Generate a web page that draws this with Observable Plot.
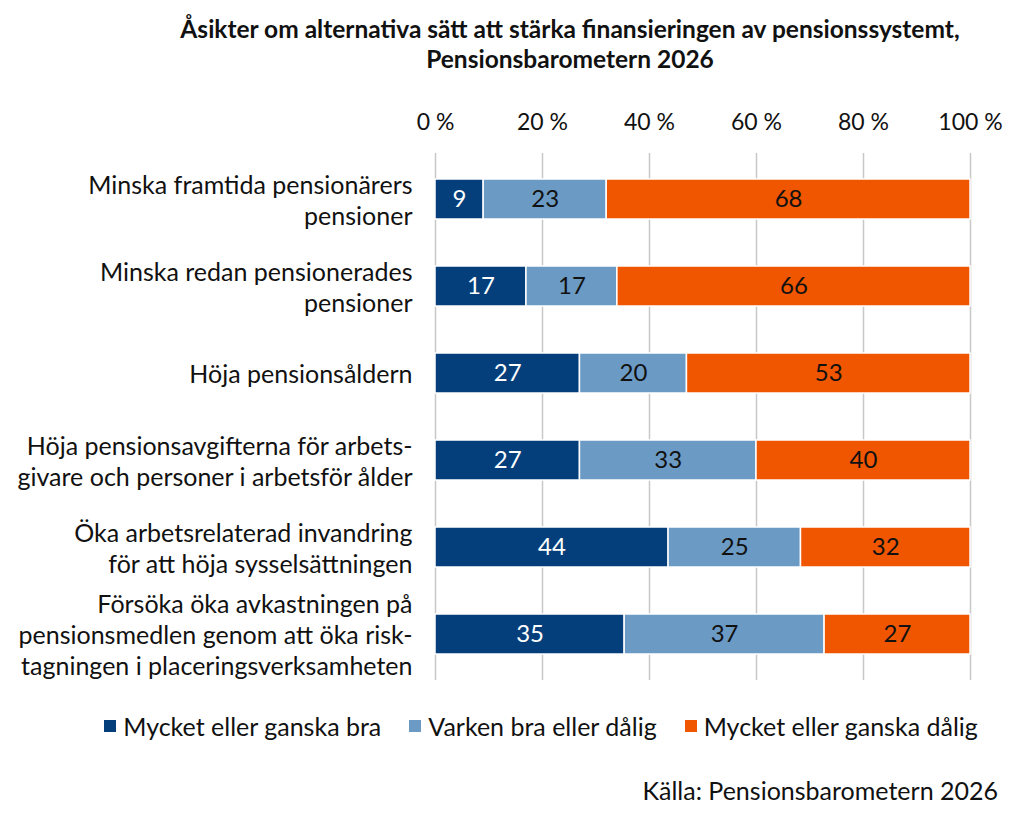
<!DOCTYPE html>
<html lang="sv">
<head>
<meta charset="utf-8">
<script src="https://cdn.jsdelivr.net/npm/d3@7"></script>
<script src="https://cdn.jsdelivr.net/npm/@observablehq/plot@0.6"></script>
<style>
  body { margin: 0; background: #fff; font-family: Lato, "Open Sans", sans-serif; color: #111; }
  #wrap { position: relative; width: 1024px; height: 816px; }
  #title { position: absolute; top: 14px; left: 116px; width: 908px; text-align: center;
           font-weight: 700; font-size: 24.5px; line-height: 30px; }
  #chart { position: absolute; top: 95px; left: 0; }
  #legend { position: absolute; top: 711px; left: 58px; width: 966px; display: flex;
            justify-content: center; align-items: center; font-size: 25px; line-height: 30px; }
  .item { display: flex; align-items: center; margin: 0 14px; }
  .sw { width: 12px; height: 12px; margin-right: 7px; }
  #source { position: absolute; top: 775px; right: 26px; font-size: 25px; line-height: 30px; }
</style>
</head>
<body>
<div id="wrap">
  <div id="title">Åsikter om alternativa sätt att stärka finansieringen av pensionssystemt,<br>Pensionsbarometern 2026</div>
  <div id="chart"></div>
  <div id="legend"></div>
  <div id="source">Källa: Pensionsbarometern 2026</div>
</div>
<script>
// Frågor (radetiketter, med radbrytningar)
const questions = [
  "Minska framtida pensionärers\npensioner",
  "Minska redan pensionerades\npensioner",
  "Höja pensionsåldern",
  "Höja pensionsavgifterna för arbets-\ngivare och personer i arbetsför ålder",
  "Öka arbetsrelaterad invandring\nför att höja sysselsättningen",
  "Försöka öka avkastningen på\npensionsmedlen genom att öka risk-\ntagningen i placeringsverksamheten"
];
// Svarsalternativ
const series = ["Mycket eller ganska bra", "Varken bra eller dålig", "Mycket eller ganska dålig"];
const colors = ["#043f7c", "#6b9bc4", "#f05500"];
// Andel (%) per fråga och svarsalternativ
const good    = [9, 17, 27, 27, 44, 35];
const neutral = [23, 17, 20, 33, 25, 37];
const bad     = [68, 66, 53, 40, 32, 27];
const xTicks = [0, 0.2, 0.4, 0.6, 0.8, 1];

const rows = [];
[good, neutral, bad].forEach((vals, s) => {
  vals.forEach((v, i) => rows.push({q: questions[i], series: series[s], value: v}));
});

const stack = (opts) => Plot.stackX({x: "value", y: "q", z: "series", offset: "normalize", order: series, ...opts});

const chart = Plot.plot({
  width: 1024,
  height: 590,
  marginTop: 58,
  marginBottom: 5,
  marginLeft: 435,
  marginRight: 54,
  style: {fontFamily: "Lato, 'Open Sans', sans-serif", fontSize: "24px", color: "#111"},
  x: {domain: [0, 1], axis: null},
  y: {domain: questions, paddingInner: 0.54, paddingOuter: 0.27, axis: null},
  color: {domain: series, range: colors},
  marks: [
    Plot.gridX(xTicks, {stroke: "#c8c8c8", strokeOpacity: 1, strokeWidth: 1.5}),
    Plot.axisX(xTicks, {anchor: "top", label: null, tickSize: 0, tickPadding: 24, fontSize: 23,
      tickFormat: d => Math.round(d * 100) + " %"}),
    Plot.axisY({label: null, tickSize: 0, tickPadding: 23, fontSize: 25, lineHeight: 1.24, tickFormat: d => d}),
    Plot.barX(rows, stack({fill: "series", stroke: "white", strokeWidth: 1.5})),
    Plot.text(rows, stack({text: "value", fontSize: 24,
      fill: d => d.series === series[0] ? "white" : "#111"}))
  ]
});
document.getElementById("chart").append(chart);

const legend = document.getElementById("legend");
series.forEach((s, i) => {
  const item = document.createElement("div");
  item.className = "item";
  item.innerHTML = `<div class="sw" style="background:${colors[i]}"></div><span>${s}</span>`;
  legend.append(item);
});
</script>
</body>
</html>
